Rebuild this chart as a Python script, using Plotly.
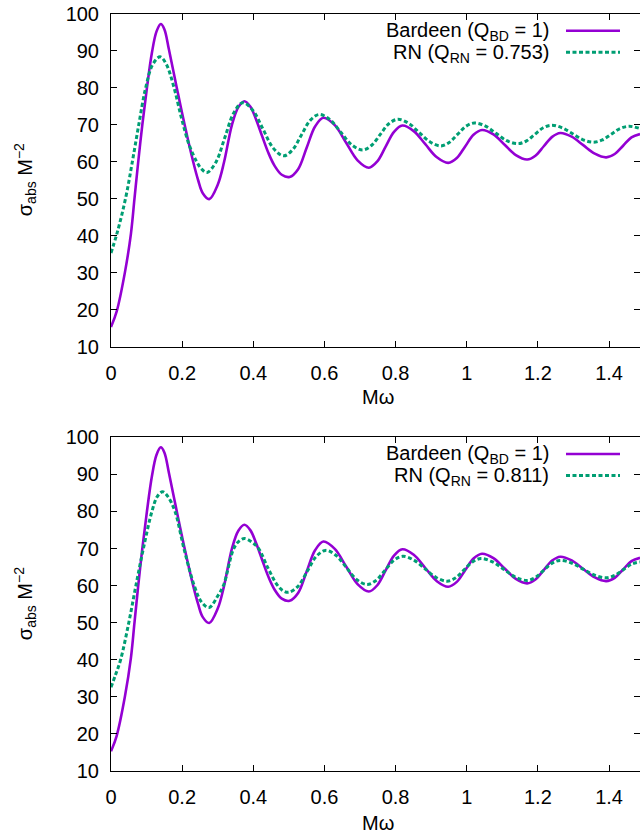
import plotly.graph_objects as go

# ---------------- data ----------------
# Bardeen, Q_BD = 1 (same curve in both panels)
omega_bd = [0.000, 0.016, 0.039, 0.056, 0.066, 0.076, 0.088, 0.101, 0.115, 0.128, 0.140,
            0.150, 0.163, 0.185, 0.207, 0.231, 0.245, 0.258, 0.276,
            0.300, 0.318, 0.340, 0.358, 0.375,
            0.392, 0.408, 0.425, 0.442, 0.460, 0.480, 0.502,
            0.526, 0.550, 0.574, 0.597,
            0.629, 0.661, 0.693, 0.725,
            0.7485, 0.772, 0.7955, 0.819,
            0.851, 0.8835, 0.916, 0.948,
            0.972, 0.9955, 1.019, 1.043,
            1.075, 1.1065, 1.138, 1.170,
            1.193, 1.2165, 1.240, 1.263,
            1.295, 1.3275, 1.360, 1.392,
            1.416, 1.4395, 1.463, 1.487]
sigma_bd = [15.3, 19.5, 30.0, 40.5, 50.0, 59.5, 70.0, 80.0, 89.5, 95.3, 97.3,
            95.9, 90.3, 80.0, 70.0, 60.0, 55.0, 51.5, 49.9,
            53.8, 60.0, 70.0, 74.8, 76.4,
            74.9, 71.4, 66.9, 62.5, 58.9, 56.5, 55.9,
            58.0, 63.8, 69.6, 71.9,
            69.9, 65.15, 60.4, 58.4,
            60.1, 64.1, 68.1, 69.8,
            68.3, 64.75, 61.2, 59.7,
            61.0, 64.15, 67.3, 68.6,
            67.4, 64.6, 61.8, 60.6,
            61.65, 64.2, 66.75, 67.8,
            66.8, 64.5, 62.2, 61.2,
            62.1, 64.35, 66.6, 67.5]

# RN, Q_RN = 0.753 (top panel)
omega_rn1 = [0.000, 0.015, 0.030, 0.045, 0.060, 0.078, 0.097, 0.117, 0.138,
             0.155, 0.176, 0.199, 0.220, 0.241, 0.255, 0.270,
             0.295, 0.320, 0.345, 0.370,
             0.399, 0.4275, 0.456, 0.485,
             0.510, 0.535, 0.560, 0.585,
             0.6155, 0.646, 0.6765, 0.707,
             0.732, 0.7565, 0.781, 0.806,
             0.836, 0.8665, 0.897, 0.927,
             0.9505, 0.974, 0.9975, 1.021,
             1.0515, 1.082, 1.1125, 1.143,
             1.167, 1.191, 1.215, 1.239,
             1.268, 1.2975, 1.327, 1.356,
             1.381, 1.406, 1.431, 1.456, 1.487]
sigma_rn1 = [35.3, 40.0, 45.5, 52.0, 60.0, 70.0, 79.8, 86.3, 88.4,
             86.5, 80.5, 71.5, 64.5, 60.0, 58.0, 57.1,
             59.9, 66.55, 73.2, 76.0,
             73.9, 68.8, 63.7, 61.6,
             63.2, 67.2, 71.2, 72.8,
             71.4, 68.0, 64.6, 63.2,
             64.4, 67.35, 70.3, 71.5,
             70.45, 67.9, 65.35, 64.3,
             65.2, 67.4, 69.6, 70.5,
             69.7, 67.7, 65.7, 64.9,
             65.6, 67.4, 69.2, 69.9,
             69.2, 67.6, 65.95, 65.3,
             65.9, 67.45, 69.0, 69.6, 69.0]

# RN, Q_RN = 0.811 (bottom panel)
omega_rn2 = [0.000, 0.013, 0.027, 0.050, 0.070, 0.091, 0.115, 0.130, 0.145,
             0.160, 0.180, 0.205, 0.234, 0.255, 0.276,
             0.300, 0.316, 0.345, 0.360, 0.375,
             0.395, 0.415, 0.440, 0.467, 0.484, 0.500,
             0.526, 0.5515, 0.577, 0.603,
             0.632, 0.6615, 0.691, 0.720,
             0.745, 0.770, 0.795, 0.820,
             0.851, 0.8825, 0.914, 0.945,
             0.969, 0.9925, 1.016, 1.040,
             1.0725, 1.105, 1.1375, 1.170,
             1.193, 1.216, 1.239, 1.262,
             1.2945, 1.327, 1.3595, 1.392,
             1.416, 1.440, 1.464, 1.487]
sigma_rn2 = [32.6, 36.0, 40.0, 50.0, 60.0, 70.0, 80.0, 84.0, 85.3,
             84.0, 80.0, 70.0, 60.0, 55.5, 54.1,
             57.2, 60.0, 70.0, 72.0, 72.7,
             71.8, 70.0, 65.0, 60.2, 58.6, 58.2,
             59.85, 63.85, 67.85, 69.5,
             68.2, 64.9, 61.6, 60.3,
             61.4, 64.1, 66.8, 67.9,
             66.9, 64.55, 62.2, 61.2,
             62.1, 64.25, 66.4, 67.3,
             66.4, 64.35, 62.25, 61.4,
             62.2, 64.1, 66.0, 66.8,
             66.1, 64.45, 62.8, 62.1,
             62.75, 64.3, 65.8, 66.4]

x_tickvals = [0, 0.2, 0.4, 0.6, 0.8, 1.0, 1.2, 1.4]
x_ticktext = ["0", "0.2", "0.4", "0.6", "0.8", "1", "1.2", "1.4"]
y_tickvals = [10, 20, 30, 40, 50, 60, 70, 80, 90, 100]

legend_bd = "Bardeen (Q<sub>BD</sub> = 1)"
legend_rn1 = "RN (Q<sub>RN</sub> = 0.753)"
legend_rn2 = "RN (Q<sub>RN</sub> = 0.811)"

# ---------------- styling ----------------
W, H = 640, 834
L = 111
PURPLE = "#9400d3"
GREEN = "#009e73"
FONT = "Liberation Sans, Arial, sans-serif"
FS = 20
DASH = "4px,2.5px"


def px(x):
    return (x - L) / (W - L)


def py(y):
    return (H - y) / H


top_dom = [py(346.5), py(14)]
bot_dom = [py(771), py(437.3)]

fig = go.Figure()

fig.add_trace(go.Scatter(x=omega_bd, y=sigma_bd, mode="lines", xaxis="x", yaxis="y",
                         line=dict(color=PURPLE, width=2.6, shape="spline", smoothing=1.0),
                         showlegend=False))
fig.add_trace(go.Scatter(x=omega_rn1, y=sigma_rn1, mode="lines", xaxis="x", yaxis="y",
                         line=dict(color=GREEN, width=3, dash=DASH, shape="spline", smoothing=1.0),
                         showlegend=False))
fig.add_trace(go.Scatter(x=omega_bd, y=sigma_bd, mode="lines", xaxis="x2", yaxis="y2",
                         line=dict(color=PURPLE, width=2.6, shape="spline", smoothing=1.0),
                         showlegend=False))
fig.add_trace(go.Scatter(x=omega_rn2, y=sigma_rn2, mode="lines", xaxis="x2", yaxis="y2",
                         line=dict(color=GREEN, width=3, dash=DASH, shape="spline", smoothing=1.0),
                         showlegend=False))
# empty traces so the right-hand tick-only axes are rendered
fig.add_trace(go.Scatter(x=[None], y=[None], xaxis="x", yaxis="y3", showlegend=False, hoverinfo="skip"))
fig.add_trace(go.Scatter(x=[None], y=[None], xaxis="x2", yaxis="y4", showlegend=False, hoverinfo="skip"))

xcommon = dict(range=[0, 1.487], tickvals=x_tickvals, ticktext=x_ticktext,
               ticks="inside", ticklen=6, tickcolor="#000", tickwidth=1,
               showline=True, linecolor="#000", linewidth=1, mirror="ticks",
               showgrid=False, zeroline=False, ticklabelstandoff=8, automargin=False,
               tickfont=dict(family=FONT, size=FS, color="#000"))
ycommon = dict(range=[10, 100], tickvals=y_tickvals,
               ticks="inside", ticklen=6, tickcolor="#000", tickwidth=1,
               showline=True, linecolor="#000", linewidth=1,
               showgrid=False, zeroline=False, ticklabelstandoff=7, automargin=False,
               tickfont=dict(family=FONT, size=FS, color="#000"))
yright = dict(range=[10, 100], tickvals=y_tickvals, ticks="inside", ticklen=6,
              tickcolor="#000", tickwidth=1, showline=False, showgrid=False,
              zeroline=False, showticklabels=False, side="right", automargin=False)

fig.update_layout(
    width=W, height=H,
    margin=dict(l=L, r=0, t=0, b=0, autoexpand=False),
    paper_bgcolor="white", plot_bgcolor="white",
    showlegend=False,
    xaxis=dict(domain=[0, 1], anchor="y", **xcommon),
    yaxis=dict(domain=top_dom, anchor="x", **ycommon),
    xaxis2=dict(domain=[0, 1], anchor="y2", **xcommon),
    yaxis2=dict(domain=bot_dom, anchor="x2", **ycommon),
    yaxis3=dict(overlaying="y", anchor="x", **yright),
    yaxis4=dict(overlaying="y2", anchor="x2", **yright),
)

annots = []
shapes = []
for (top_px, rn_label) in [(14, legend_rn1), (437.3, legend_rn2)]:
    r1 = top_px + 16.7
    r2 = top_px + 38.3
    annots.append(dict(x=px(551), y=py(r1 + 1), xref="paper", yref="paper", text=legend_bd,
                       xanchor="right", yanchor="middle", showarrow=False, height=21,
                       font=dict(family=FONT, size=FS, color="#000")))
    annots.append(dict(x=px(551), y=py(r2 + 1), xref="paper", yref="paper", text=rn_label,
                       xanchor="right", yanchor="middle", showarrow=False, height=21,
                       font=dict(family=FONT, size=FS, color="#000")))
    shapes.append(dict(type="line", xref="paper", yref="paper", x0=px(566), x1=px(620),
                       y0=py(r1), y1=py(r1), line=dict(color=PURPLE, width=2.6)))
    shapes.append(dict(type="line", xref="paper", yref="paper", x0=px(566), x1=px(620),
                       y0=py(r2), y1=py(r2), line=dict(color=GREEN, width=3, dash=DASH)))

# axis titles
for (yc, xt) in [((14 + 346.5) / 2, 397), ((437.3 + 771) / 2, 823)]:
    annots.append(dict(x=px(25), y=py(yc), xref="paper", yref="paper",
                       text="σ<sub>abs</sub> M<sup>−2</sup>", textangle=-90,
                       xanchor="center", yanchor="middle", showarrow=False,
                       font=dict(family=FONT, size=FS, color="#000")))
    annots.append(dict(x=px(378), y=py(xt), xref="paper", yref="paper", text="Mω",
                       xanchor="center", yanchor="middle", showarrow=False,
                       font=dict(family=FONT, size=FS, color="#000")))

fig.update_layout(annotations=annots, shapes=shapes)

fig.write_html("out.html", config={"displayModeBar": False},
               post_script="document.body.style.margin='0';")
